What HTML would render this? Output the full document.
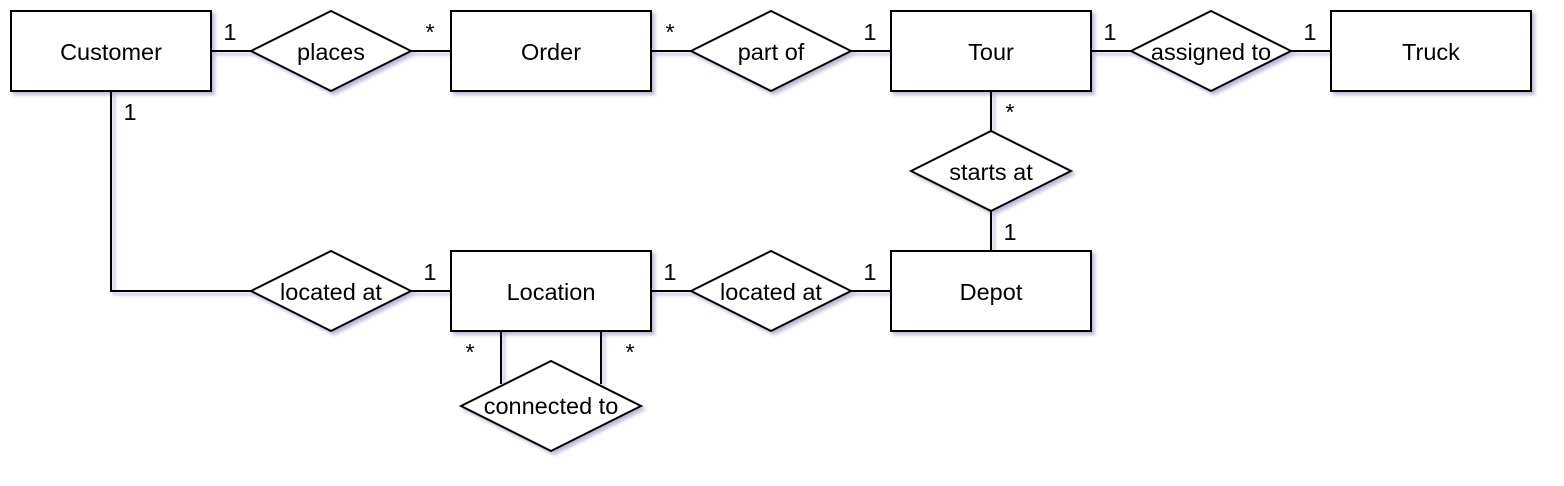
<!DOCTYPE html>
<html><head><meta charset="utf-8"><style>
html,body{margin:0;padding:0;background:#fff;}
svg{display:block;}
text{font-family:"Liberation Sans",sans-serif;font-size:23.5px;fill:#000;}
.s{fill:#fff;stroke:#000;stroke-width:2;filter:url(#sh);}
.l{stroke:#000;stroke-width:2;fill:none;filter:url(#sh);}
</style></head><body>
<svg width="1564" height="486" viewBox="0 0 1564 486" xmlns="http://www.w3.org/2000/svg">
<defs><filter id="sh" x="-20%" y="-20%" width="140%" height="140%"><feDropShadow dx="3" dy="3" stdDeviation="1.5" flood-color="#1a237e" flood-opacity="0.3"/></filter></defs>
<g>
<path class="l" d="M211 51H251M411 51H451M651 51H691M851 51H891M1091 51H1131M1291 51H1331M991 91V131M991 211V251M111 91V291H251M411 291H451M651 291H691M851 291H891M501 331V384M601 331V384"/>
<rect class="s" x="11" y="11" width="200" height="80"/>
<rect class="s" x="451" y="11" width="200" height="80"/>
<rect class="s" x="891" y="11" width="200" height="80"/>
<rect class="s" x="1331" y="11" width="200" height="80"/>
<rect class="s" x="451" y="251" width="200" height="80"/>
<rect class="s" x="891" y="251" width="200" height="80"/>
<polygon class="s" points="251,51 331,11 411,51 331,91"/>
<polygon class="s" points="691,51 771,11 851,51 771,91"/>
<polygon class="s" points="1131,51 1211,11 1291,51 1211,91"/>
<polygon class="s" points="911,171 991,131 1071,171 991,211"/>
<polygon class="s" points="251,291 331,251 411,291 331,331"/>
<polygon class="s" points="691,291 771,251 851,291 771,331"/>
<polygon class="s" points="461,406 551,361 641,406 551,451"/>
</g>
<g text-anchor="middle">
<text x="111" y="60">Customer</text>
<text x="551" y="60">Order</text>
<text x="991" y="60">Tour</text>
<text x="1431" y="60">Truck</text>
<text x="551" y="300">Location</text>
<text x="991" y="300">Depot</text>
<text x="331" y="60">places</text>
<text x="771" y="60">part of</text>
<text x="1211" y="60">assigned to</text>
<text x="991" y="180">starts at</text>
<text x="331" y="300">located at</text>
<text x="771" y="300">located at</text>
<text x="551" y="414">connected to</text>
<text x="230" y="40">1</text>
<text x="430" y="40">*</text>
<text x="670" y="40">*</text>
<text x="870" y="40">1</text>
<text x="1110" y="40">1</text>
<text x="1310" y="40">1</text>
<text x="130" y="120">1</text>
<text x="1010" y="120">*</text>
<text x="1010" y="240">1</text>
<text x="430" y="280">1</text>
<text x="670" y="280">1</text>
<text x="870" y="280">1</text>
<text x="470" y="360">*</text>
<text x="630" y="360">*</text>
</g>
</svg>
</body></html>
